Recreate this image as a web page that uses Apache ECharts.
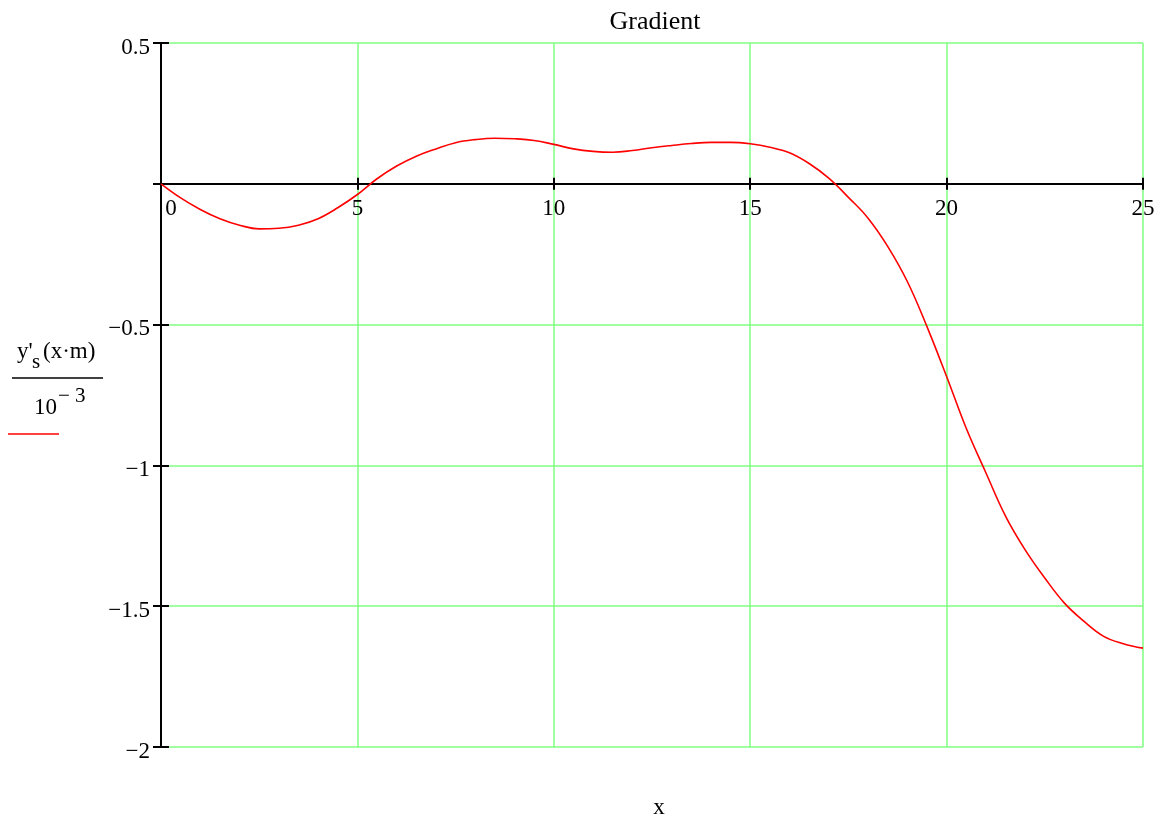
<!DOCTYPE html>
<html>
<head>
<meta charset="utf-8">
<script src="https://cdn.jsdelivr.net/npm/echarts@6/dist/echarts.min.js"></script>
<style>
html,body{margin:0;padding:0;background:#fff;}
#chart{width:1170px;height:823px;}
</style>
</head>
<body>
<div id="chart"></div>
<script>
// Data (x step 0.5)
var xValues = [0, 0.5, 1, 1.5, 2, 2.5, 3, 3.5, 4, 4.5, 5, 5.5, 6, 6.5, 7, 7.5, 8, 8.5, 9, 9.5, 10, 10.5, 11, 11.5, 12, 12.5, 13, 13.5, 14, 14.5, 15, 15.5, 16, 16.5, 17, 17.5, 18, 18.5, 19, 19.5, 20, 20.5, 21, 21.5, 22, 22.5, 23, 23.5, 24, 24.5, 25];
var yValues = [0, -0.050, -0.091, -0.124, -0.147, -0.160, -0.158, -0.147, -0.124, -0.085, -0.038, 0.018, 0.063, 0.098, 0.124, 0.146, 0.157, 0.162, 0.160, 0.154, 0.140, 0.124, 0.115, 0.112, 0.118, 0.128, 0.136, 0.143, 0.147, 0.147, 0.142, 0.130, 0.110, 0.072, 0.020, -0.048, -0.122, -0.222, -0.347, -0.507, -0.684, -0.868, -1.026, -1.180, -1.300, -1.400, -1.489, -1.554, -1.607, -1.633, -1.649];
var xTicks = [0, 5, 10, 15, 20, 25];
var yTicks = [0.5, 0, -0.5, -1, -1.5, -2];
var titleText = 'Gradient';
var xLabel = 'x';

var FONT = 'Liberation Serif';
var GREEN = '#80ff80';

var points = xValues.map(function (x, i) { return [x, yValues[i]]; });

function yFmt(v) {
  if (v === 0) return '';
  return '{t|' + String(v).replace('-', '\u2212') + '}';
}

var xMin = xTicks[0], xMax = xTicks[xTicks.length - 1];
var yMin = yTicks[yTicks.length - 1], yMax = yTicks[0];

var GRID_TOP = 43, GRID_BOTTOM_PX = 747;
var zeroPx = GRID_TOP + (yMax - 0) / (yMax - yMin) * (GRID_BOTTOM_PX - GRID_TOP);

var chart = echarts.init(document.getElementById('chart'), null, {renderer: 'canvas'});
chart.setOption({
  animation: false,
  backgroundColor: '#ffffff',
  grid: {left: 161, right: 27, top: GRID_TOP, bottom: 823 - GRID_BOTTOM_PX, containLabel: false},
  xAxis: [{
    type: 'value', min: xMin, max: xMax, interval: 5, position: 'bottom',
    offset: -(GRID_BOTTOM_PX - zeroPx),
    axisLine: {show: true, onZero: false, lineStyle: {color: '#000', width: 2}},
    axisTick: {show: true, inside: false, length: 6, lineStyle: {color: '#000', width: 2}},
    axisLabel: {
      show: true, margin: 14, color: '#000', fontFamily: FONT, fontSize: 23,
      formatter: function (v) { return v === 0 ? '{z|0}' : String(v); },
      rich: {z: {fontFamily: FONT, fontSize: 23, color: '#000', padding: [0, 0, 0, 20]}}
    },
    splitLine: {show: true, showMinLine: true, showMaxLine: true, lineStyle: {color: GREEN, width: 1.5}}
  }, {
    type: 'value', min: xMin, max: xMax, interval: 5, position: 'top',
    offset: -(zeroPx - GRID_TOP),
    axisLine: {show: false, onZero: false},
    axisTick: {show: true, inside: false, length: 6, lineStyle: {color: '#000', width: 2}},
    axisLabel: {show: false},
    splitLine: {show: false}
  }],
  yAxis: [{
    type: 'value', min: yMin, max: yMax, interval: 0.5, position: 'left',
    axisLine: {show: true, onZero: false, lineStyle: {color: '#000', width: 2}},
    axisTick: {show: true, inside: false, length: 8, lineStyle: {color: '#000', width: 2}},
    axisLabel: {
      show: true, margin: 11, color: '#000', fontFamily: FONT, fontSize: 23, formatter: yFmt,
      rich: {t: {fontFamily: FONT, fontSize: 23, color: '#000', padding: [9, 0, 0, 0]}}
    },
    splitLine: {show: true, showMinLine: true, showMaxLine: true, lineStyle: {color: GREEN, width: 1.5}}
  }, {
    type: 'value', min: yMin, max: yMax, interval: 0.5, position: 'left',
    axisLine: {show: false, onZero: false},
    axisTick: {show: true, inside: true, length: 8, lineStyle: {color: '#000', width: 2}},
    axisLabel: {show: false},
    splitLine: {show: false}
  }],
  series: [{
    type: 'line',
    data: points,
    xAxisIndex: 0, yAxisIndex: 0,
    smooth: 0.4,
    showSymbol: false,
    symbol: 'none',
    lineStyle: {color: '#ff0000', width: 1.6},
    z: 5
  }],
  graphic: [
    {type: 'text', x: 655, y: 22, style: {text: titleText, font: '26px "' + FONT + '"', fill: '#000', align: 'center', verticalAlign: 'middle'}},
    {type: 'text', x: 659, y: 808, style: {text: xLabel, font: '23px "' + FONT + '"', fill: '#000', align: 'center', verticalAlign: 'middle'}},
    {type: 'text', x: 17, y: 352, style: {text: "y'", font: '23px "' + FONT + '"', fill: '#000', align: 'left', verticalAlign: 'middle'}},
    {type: 'text', x: 32, y: 362, style: {text: 's', font: '21px "' + FONT + '"', fill: '#000', align: 'left', verticalAlign: 'middle'}},
    {type: 'text', x: 43, y: 352, style: {text: '(x\u00b7m)', font: '23px "' + FONT + '"', fill: '#000', align: 'left', verticalAlign: 'middle'}},
    {type: 'line', shape: {x1: 12, y1: 378, x2: 103, y2: 378}, style: {stroke: '#000', lineWidth: 1.5}},
    {type: 'text', x: 34, y: 408, style: {text: '10', font: '23px "' + FONT + '"', fill: '#000', align: 'left', verticalAlign: 'middle'}},
    {type: 'text', x: 58, y: 396, style: {text: '\u2212 3', font: '21px "' + FONT + '"', fill: '#000', align: 'left', verticalAlign: 'middle'}},
    {type: 'line', shape: {x1: 8, y1: 434, x2: 59, y2: 434}, style: {stroke: '#ff0000', lineWidth: 1.5}}
  ]
});
</script>
</body>
</html>
